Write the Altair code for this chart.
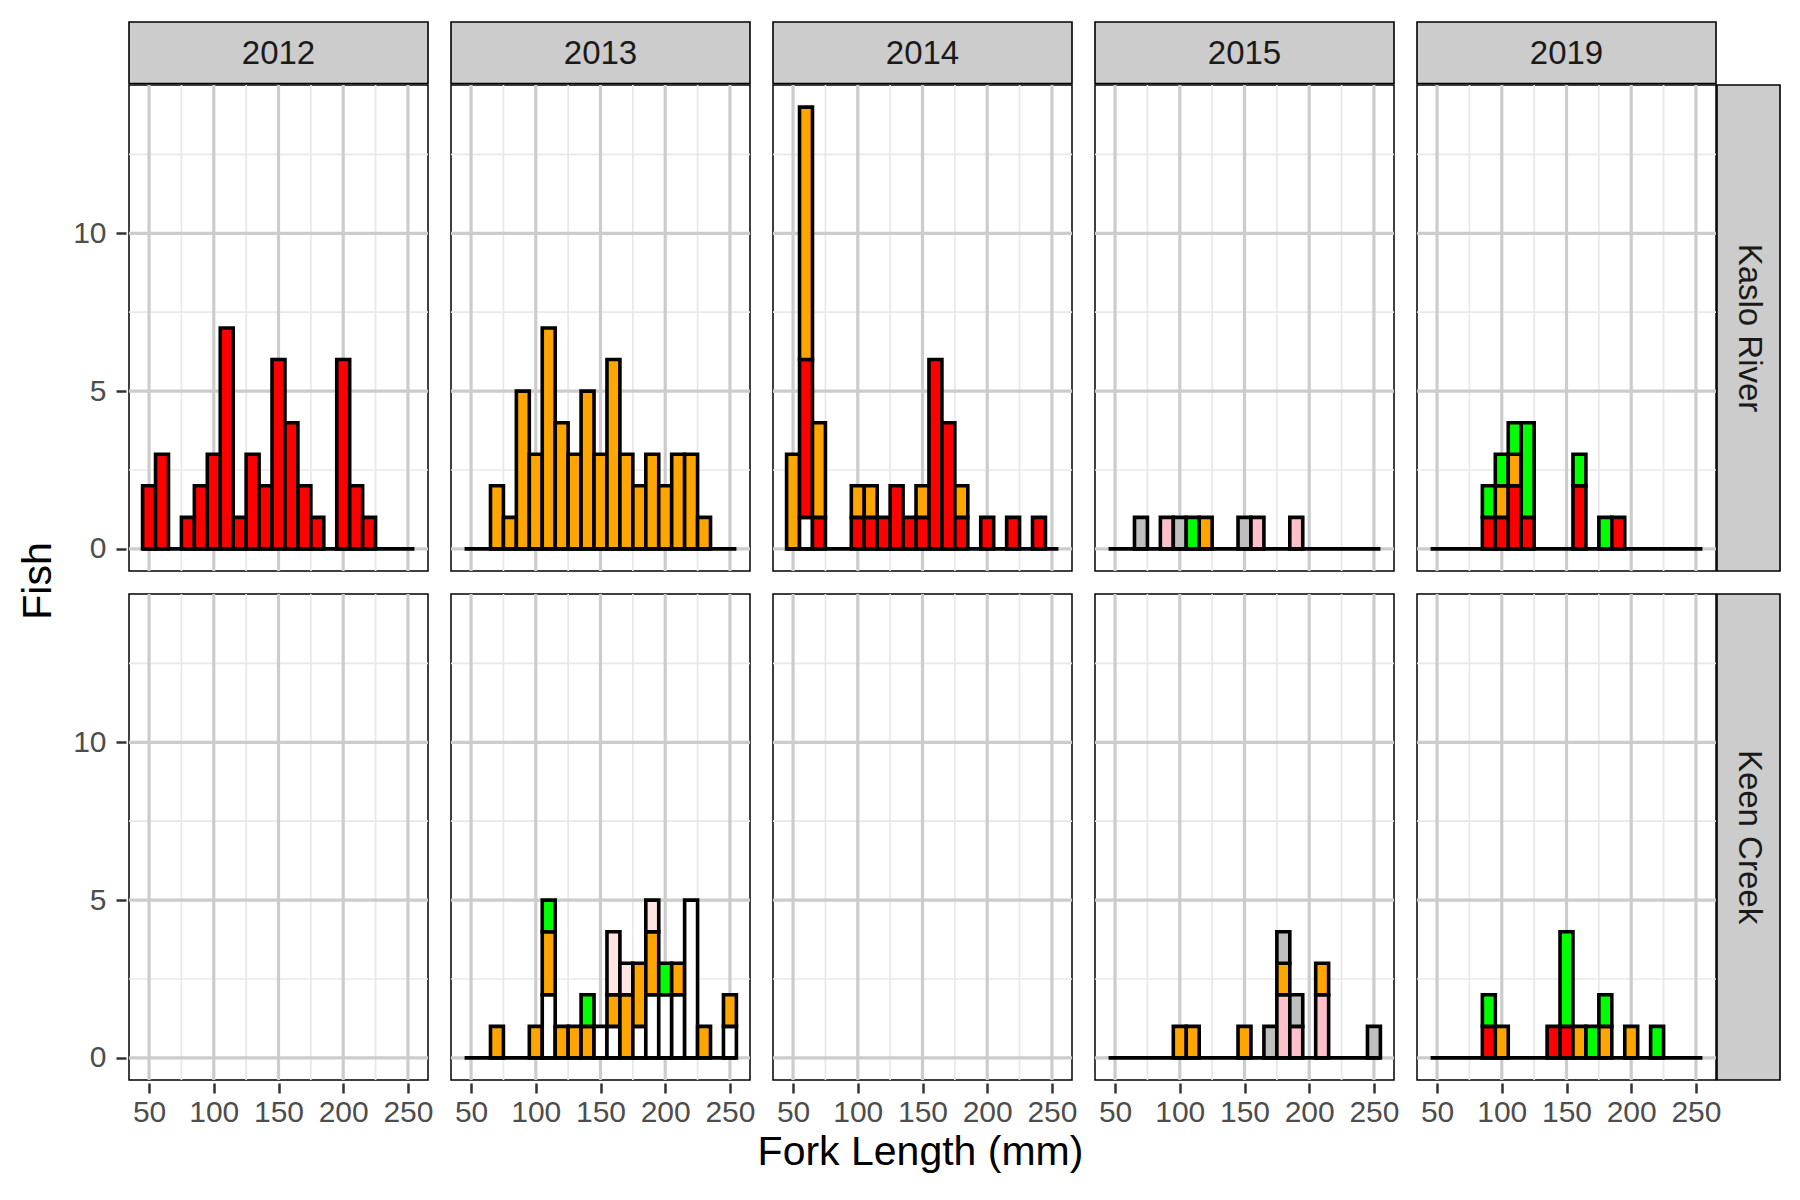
import altair as alt

FONT = "Liberation Sans"

YEARS = ["2012", "2013", "2014", "2015", "2019"]
SITES = ["Kaslo River", "Keen Creek"]

# histogram bins (mm): centres, width 10
BIN_CENTERS = [50, 60, 70, 80, 90, 100, 110, 120, 130, 140, 150,
               160, 170, 180, 190, 200, 210, 220, 230, 240, 250]
BIN_WIDTH = 10

# fill groups, in stacking order (bottom -> top) and their colours
GROUPS = ["white", "red", "pink", "orange", "mistyrose", "gray", "green"]
FILLS = ["#FFFFFF", "#FF0000", "#FFC0CB", "#FFA500", "#FFE4E1", "#BEBEBE", "#00FF00"]

X_TICKS = [50, 100, 150, 200, 250]
X_MINOR = [75, 125, 175, 225]
Y_TICKS = [0, 5, 10]
Y_MINOR = [2.5, 7.5, 12.5]

# counts per bin     50 60 70 80 90 100 110 120 130 140 150 160 170 180 190 200 210 220 230 240 250
KASLO_2012_RED    = [2, 3, 0, 1, 2, 3, 7, 1, 3, 2, 6, 4, 2, 1, 0, 6, 2, 1, 0, 0, 0]

KASLO_2013_ORANGE = [0, 0, 2, 1, 5, 3, 7, 4, 3, 5, 3, 6, 3, 2, 3, 2, 3, 3, 1, 0, 0]

KASLO_2014_WHITE  = [0, 1, 0, 0, 0, 0, 0, 0, 0, 0, 0, 0, 0, 0, 0, 0, 0, 0, 0, 0, 0]
KASLO_2014_RED    = [0, 5, 1, 0, 0, 1, 1, 1, 2, 1, 1, 6, 4, 1, 0, 1, 0, 1, 0, 1, 0]
KASLO_2014_ORANGE = [3, 8, 3, 0, 0, 1, 1, 0, 0, 0, 1, 0, 0, 1, 0, 0, 0, 0, 0, 0, 0]

KASLO_2015_PINK   = [0, 0, 0, 0, 1, 0, 0, 0, 0, 0, 0, 1, 0, 0, 1, 0, 0, 0, 0, 0, 0]
KASLO_2015_ORANGE = [0, 0, 0, 0, 0, 0, 0, 1, 0, 0, 0, 0, 0, 0, 0, 0, 0, 0, 0, 0, 0]
KASLO_2015_GRAY   = [0, 0, 1, 0, 0, 1, 0, 0, 0, 0, 1, 0, 0, 0, 0, 0, 0, 0, 0, 0, 0]
KASLO_2015_GREEN  = [0, 0, 0, 0, 0, 0, 1, 0, 0, 0, 0, 0, 0, 0, 0, 0, 0, 0, 0, 0, 0]

KASLO_2019_RED    = [0, 0, 0, 0, 1, 1, 2, 1, 0, 0, 0, 2, 0, 0, 1, 0, 0, 0, 0, 0, 0]
KASLO_2019_ORANGE = [0, 0, 0, 0, 0, 1, 1, 0, 0, 0, 0, 0, 0, 0, 0, 0, 0, 0, 0, 0, 0]
KASLO_2019_GREEN  = [0, 0, 0, 0, 1, 1, 1, 3, 0, 0, 0, 1, 0, 1, 0, 0, 0, 0, 0, 0, 0]

KEEN_2013_WHITE     = [0, 0, 0, 0, 0, 0, 2, 0, 0, 0, 1, 1, 0, 1, 2, 2, 2, 5, 0, 0, 1]
KEEN_2013_ORANGE    = [0, 0, 1, 0, 0, 1, 2, 1, 1, 1, 0, 1, 2, 2, 2, 0, 1, 0, 1, 0, 1]
KEEN_2013_MISTYROSE = [0, 0, 0, 0, 0, 0, 0, 0, 0, 0, 0, 2, 1, 0, 1, 0, 0, 0, 0, 0, 0]
KEEN_2013_GREEN     = [0, 0, 0, 0, 0, 0, 1, 0, 0, 1, 0, 0, 0, 0, 0, 1, 0, 0, 0, 0, 0]

KEEN_2015_PINK    = [0, 0, 0, 0, 0, 0, 0, 0, 0, 0, 0, 0, 0, 2, 1, 0, 2, 0, 0, 0, 0]
KEEN_2015_ORANGE  = [0, 0, 0, 0, 0, 1, 1, 0, 0, 0, 1, 0, 0, 1, 0, 0, 1, 0, 0, 0, 0]
KEEN_2015_GRAY    = [0, 0, 0, 0, 0, 0, 0, 0, 0, 0, 0, 0, 1, 1, 1, 0, 0, 0, 0, 0, 1]

KEEN_2019_RED     = [0, 0, 0, 0, 1, 0, 0, 0, 0, 1, 1, 0, 0, 0, 0, 0, 0, 0, 0, 0, 0]
KEEN_2019_ORANGE  = [0, 0, 0, 0, 0, 1, 0, 0, 0, 0, 0, 1, 0, 1, 0, 1, 0, 0, 0, 0, 0]
KEEN_2019_GREEN   = [0, 0, 0, 0, 1, 0, 0, 0, 0, 0, 3, 0, 1, 1, 0, 0, 0, 1, 0, 0, 0]

PANEL_COUNTS = {
    ("Kaslo River", "2012"): {"red": KASLO_2012_RED},
    ("Kaslo River", "2013"): {"orange": KASLO_2013_ORANGE},
    ("Kaslo River", "2014"): {"white": KASLO_2014_WHITE, "red": KASLO_2014_RED,
                              "orange": KASLO_2014_ORANGE},
    ("Kaslo River", "2015"): {"pink": KASLO_2015_PINK, "orange": KASLO_2015_ORANGE,
                              "gray": KASLO_2015_GRAY, "green": KASLO_2015_GREEN},
    ("Kaslo River", "2019"): {"red": KASLO_2019_RED, "orange": KASLO_2019_ORANGE,
                              "green": KASLO_2019_GREEN},
    ("Keen Creek", "2013"): {"white": KEEN_2013_WHITE, "orange": KEEN_2013_ORANGE,
                             "mistyrose": KEEN_2013_MISTYROSE, "green": KEEN_2013_GREEN},
    ("Keen Creek", "2015"): {"pink": KEEN_2015_PINK, "orange": KEEN_2015_ORANGE,
                             "gray": KEEN_2015_GRAY},
    ("Keen Creek", "2019"): {"red": KEEN_2019_RED, "orange": KEEN_2019_ORANGE,
                             "green": KEEN_2019_GREEN},
}

# ---------------------------------------------------------------- styling
W, H = 299, 486
STRIP_H = 62
RSTRIP_W = 63
RSTRIP_GAP = 1
SPACE_COL = 17
SPACE_ROW = 17
MAJOR_COL = "#CCCCCC"
MINOR_COL = "#E8E8E8"
STRIP_FILL = "#CCCCCC"

XS = alt.Scale(domain=[34.5, 265.5], nice=False, zero=False)
YS = alt.Scale(domain=[-0.7, 14.7], nice=False, zero=False)

XA = alt.Axis(values=X_TICKS, title=None, grid=False, domain=False,
              tickSize=10, tickWidth=2.5, tickColor="#333333",
              labelFontSize=30, labelColor="#4D4D4D", labelFont=FONT,
              labelPadding=4, labelFlush=False, labelOverlap=False)
YA = alt.Axis(values=Y_TICKS, title=None, grid=False, domain=False,
              tickSize=10, tickWidth=2.5, tickColor="#333333",
              labelFontSize=30, labelColor="#4D4D4D", labelFont=FONT,
              labelPadding=10, labelFlush=False, labelOverlap=False)

# ---------------------------------------------------------------- data table
records = []
for site in SITES:
    for year in YEARS:
        for v in X_MINOR:
            records.append({"kind": "vmin", "site": site, "year": year, "v": v})
        for v in Y_MINOR:
            records.append({"kind": "hmin", "site": site, "year": year, "v": v})
        for v in X_TICKS:
            records.append({"kind": "vmaj", "site": site, "year": year, "v": v})
        for v in Y_TICKS:
            records.append({"kind": "hmaj", "site": site, "year": year, "v": v})
        groups = PANEL_COUNTS.get((site, year), {})
        if groups:
            records.append({"kind": "base", "site": site, "year": year,
                            "lo": BIN_CENTERS[0] - BIN_WIDTH / 2,
                            "hi": BIN_CENTERS[-1] + BIN_WIDTH / 2, "y0": 0})
        for i, c in enumerate(BIN_CENTERS):
            base = 0
            for g in GROUPS:
                if g in groups and groups[g][i] > 0:
                    n = groups[g][i]
                    records.append({"kind": "bar", "site": site, "year": year,
                                    "lo": c - BIN_WIDTH / 2, "hi": c + BIN_WIDTH / 2,
                                    "y0": base, "y1": base + n, "grp": g})
                    base += n
for year in YEARS:
    records.append({"kind": "stop", "site": SITES[0], "year": year, "label": year})
for site in SITES:
    records.append({"kind": "sright", "site": site, "year": YEARS[-1], "label": site})

K = alt.datum.kind

vmin = alt.Chart().mark_rule(color=MINOR_COL, strokeWidth=1.7).encode(
    x=alt.X("v:Q", scale=XS, axis=XA)).transform_filter(K == "vmin")
hmin = alt.Chart().mark_rule(color=MINOR_COL, strokeWidth=1.7).encode(
    y=alt.Y("v:Q", scale=YS, axis=YA)).transform_filter(K == "hmin")
vmaj = alt.Chart().mark_rule(color=MAJOR_COL, strokeWidth=3.2).encode(
    x=alt.X("v:Q", scale=XS, axis=XA)).transform_filter(K == "vmaj")
hmaj = alt.Chart().mark_rule(color=MAJOR_COL, strokeWidth=3.2).encode(
    y=alt.Y("v:Q", scale=YS, axis=YA)).transform_filter(K == "hmaj")
baseline = alt.Chart().mark_rule(color="black", strokeWidth=3.8).encode(
    x=alt.X("lo:Q", scale=XS, axis=XA), x2="hi:Q",
    y=alt.Y("y0:Q", scale=YS, axis=YA)).transform_filter(K == "base")
bars = alt.Chart().mark_rect(stroke="black", strokeWidth=3.6).encode(
    x=alt.X("lo:Q", scale=XS, axis=XA), x2="hi:Q",
    y=alt.Y("y0:Q", scale=YS, axis=YA), y2="y1:Q",
    color=alt.Color("grp:N", scale=alt.Scale(domain=GROUPS, range=FILLS), legend=None),
).transform_filter(K == "bar")

# facet strips (drawn just outside the panels)
top_box = alt.Chart().mark_rect(fill=STRIP_FILL, stroke="black", strokeWidth=1.6).encode(
    x=alt.value(0), x2=alt.value(W), y=alt.value(-STRIP_H - 1), y2=alt.value(-1.5)
).transform_filter(K == "stop")
top_txt = alt.Chart().mark_text(fontSize=33, color="#1A1A1A", font=FONT,
                                align="center", baseline="middle").encode(
    x=alt.value(W / 2), y=alt.value(-STRIP_H / 2), text="label:N"
).transform_filter(K == "stop")
right_box = alt.Chart().mark_rect(fill=STRIP_FILL, stroke="black", strokeWidth=1.6).encode(
    x=alt.value(W + RSTRIP_GAP), x2=alt.value(W + RSTRIP_GAP + RSTRIP_W),
    y=alt.value(0), y2=alt.value(H)
).transform_filter(K == "sright")
right_txt = alt.Chart().mark_text(fontSize=33, color="#1A1A1A", font=FONT, angle=90,
                                  align="center", baseline="middle").encode(
    x=alt.value(W + RSTRIP_GAP + RSTRIP_W / 2), y=alt.value(H / 2), text="label:N"
).transform_filter(K == "sright")

cell = alt.layer(vmin, hmin, vmaj, hmaj, baseline, bars,
                 top_box, top_txt, right_box, right_txt,
                 data=alt.Data(values=records)).properties(width=W, height=H)

facet = cell.facet(
    row=alt.Row("site:N", sort=SITES, header=None),
    column=alt.Column("year:N", sort=YEARS, header=None),
    spacing={"row": SPACE_ROW, "column": SPACE_COL},
    align="each",
)

PITCH = W + SPACE_COL + 6
PANELS_W = 4 * PITCH + W
xtitle = alt.Chart(alt.Data(values=[{"t": "Fork Length (mm)"}])).mark_text(
    fontSize=41, font=FONT, color="black", align="center", baseline="middle").encode(
    x=alt.value(PANELS_W / 2 - 2), y=alt.value(25), text="t:N").properties(
    width=PANELS_W, height=50, view=alt.ViewBackground(stroke="transparent"))

body = alt.vconcat(facet, xtitle, spacing=0)

PANELS_H = 2 * H + SPACE_ROW + 7
fish = alt.Chart(alt.Data(values=[{"t": "Fish"}])).mark_text(
    fontSize=41, font=FONT, color="black", angle=270, align="center",
    baseline="middle").encode(
    x=alt.value(20), y=alt.value(PANELS_H / 2 - 2), text="t:N").properties(
    width=40, height=PANELS_H, view=alt.ViewBackground(stroke="transparent"))

chart = alt.hconcat(fish, body, spacing=12).properties(
    padding={"left": 17, "top": 20, "right": 5, "bottom": 5},
    background="white",
).configure(font=FONT).configure_view(stroke="black", strokeWidth=1.5)

chart.save("out.html", embed_options={"renderer": "svg", "actions": False})
